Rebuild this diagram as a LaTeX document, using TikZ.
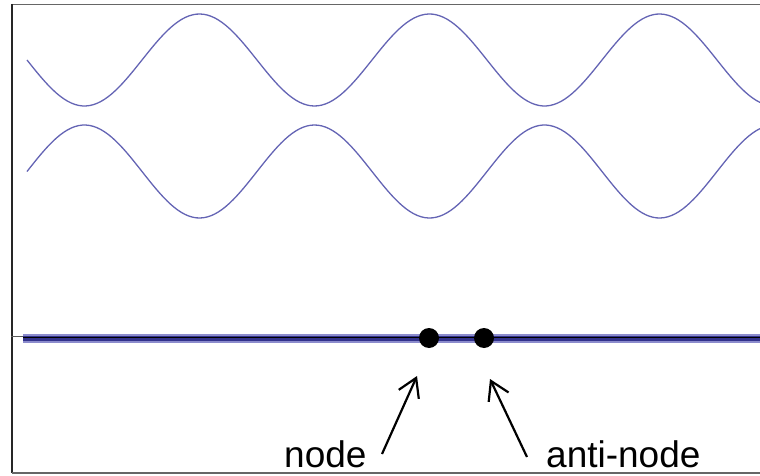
\documentclass[tikz,border=0pt]{standalone}
\usepackage{fontspec}
\setmainfont{Liberation Sans}
\usetikzlibrary{arrows.meta}
\definecolor{wave}{RGB}{100,100,180}
\definecolor{rodedge}{RGB}{140,140,205}
\definecolor{rodmid}{RGB}{50,50,140}
\begin{document}
\begin{tikzpicture}[x=1pt,y=-1pt,line join=round,
  >={Straight Barb[length=18pt,width=22pt]},
  dot/.style={circle,fill=black,inner sep=0pt,minimum size=20pt},
  lbl/.style={inner sep=0pt,anchor=base west,font=\fontsize{37}{40}\selectfont}]
\useasboundingbox (0,0) rectangle (760,476);
% frame, open on the right
\draw[gray!80!black,line width=1.5pt] (760,4.5)--(11.5,4.5);
\draw[black!85,line width=2pt] (11.5,4)--(11.5,473);
\draw[gray!80!black,line width=1.5pt] (11.5,473)--(760,473);
% the two waves
\draw[wave,line width=1.3pt,domain=27:760,samples=200] plot(\x,{60+46*sin((\x-27)/230*360)});
\draw[wave,line width=1.3pt,domain=27:760,samples=200] plot(\x,{171.5-46.5*sin((\x-27)/230*360)});
% the sum: a flat line
\draw[gray!70!black,line width=1pt] (11,336)--(23,336);
\draw[rodedge,line width=9pt] (23,338)--(760,338);
\draw[rodmid,line width=5pt] (23,338)--(760,338);
\draw[black,line width=1pt] (23,337.5)--(760,337.5);
\node[dot] (n) at (429,338) {};
\node[dot] (an) at (484,338) {};
% labels and arrows
\node[lbl] (nlbl) at (284,467) {node};
\node[lbl] (anlbl) at (546,467) {anti-node};
\coordinate (ntail) at (382,454);
\coordinate (ntip) at (417,376);
\coordinate (antail) at (527,457);
\coordinate (antip) at (490,379);
\draw[->,line width=2.2pt] (ntail)--(ntip);
\draw[->,line width=2.2pt] (antail)--(antip);
\end{tikzpicture}
\end{document}
